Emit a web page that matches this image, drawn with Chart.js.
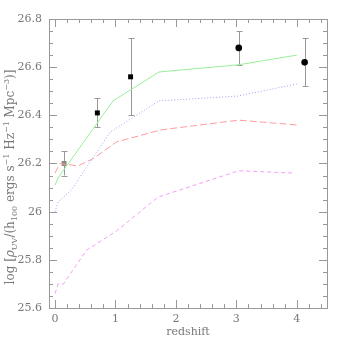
<!DOCTYPE html>
<html>
<head>
<meta charset="utf-8">
<script src="https://cdn.jsdelivr.net/npm/chart.js@4/dist/chart.umd.min.js"></script>
<style>
  html, body { margin: 0; padding: 0; background: #fff; }
  #wrap { width: 346px; height: 346px; }
</style>
</head>
<body>
<div id="wrap"><canvas id="grafico" width="346" height="346"></canvas></div>
<script>
// modelos (redshift, log densidade UV)
const zVerde = [0, 0.05, 0.96, 1.72, 3.04, 4.0];
const yVerde = [26.11, 26.14, 26.46, 26.58, 26.61, 26.65];

const zAzul = [0, 0.05, 0.27, 0.91, 1.72, 3.02, 4.0];
const yAzul = [26.00, 26.04, 26.09, 26.33, 26.46, 26.48, 26.53];

const zVermelho = [0, 0.08, 0.38, 0.63, 1.02, 1.76, 3.04, 4.0];
const yVermelho = [26.16, 26.20, 26.19, 26.22, 26.29, 26.34, 26.38, 26.36];

const zMagenta = [0, 0.05, 0.14, 0.52, 1.02, 1.7, 3.04, 3.97];
const yMagenta = [25.66, 25.70, 25.70, 25.84, 25.92, 26.06, 26.17, 26.16];

// observacoes com barras de erro
const zObs = [0.15, 0.70, 1.25, 3.04, 4.13];
const yObs = [26.20, 26.41, 26.56, 26.68, 26.62];
const yObsMin = [26.15, 26.35, 26.40, 26.61, 26.52];
const yObsMax = [26.25, 26.47, 26.72, 26.75, 26.72];
const estiloObs = ['rect', 'rect', 'rect', 'circle', 'circle'];
const corObs = ['#888', '#000', '#000', '#000', '#000'];

const ticksX = [0, 1, 2, 3, 4];
const ticksY = [25.6, 25.8, 26.0, 26.2, 26.4, 26.6, 26.8];

const corEixo = '#999';
const corTexto = '#777';
const fonteSerif = 'DejaVu Serif';

function pares(xs, ys) {
    return xs.map((x, i) => ({ x: x, y: ys[i] }));
}

function linhaModelo(label, xs, ys, cor, dash) {
    return {
        label: label,
        data: pares(xs, ys),
        showLine: true,
        borderColor: cor,
        borderWidth: 1,
        borderDash: dash,
        pointRadius: 0,
        fill: false,
        tension: 0
    };
}

// barras de erro, moldura e ticks internos
const pluginMoldura = {
    id: 'moldura',
    beforeDatasetsDraw(chart) {
        const ctx = chart.ctx;
        const a = chart.chartArea;
        const sx = chart.scales.x;
        const sy = chart.scales.y;
        ctx.save();
        ctx.strokeStyle = corEixo;
        ctx.lineWidth = 1;
        ctx.strokeRect(Math.round(a.left) + 0.5, Math.round(a.top) + 0.5,
            Math.round(a.right - a.left), Math.round(a.bottom - a.top));

        ctx.beginPath();
        // ticks em x a cada 0.2
        for (let i = 0; i <= 22; i++) {
            const v = i * 0.2;
            const px = Math.round(sx.getPixelForValue(v)) + 0.5;
            const len = (i % 5 === 0) ? 8 : 4;
            ctx.moveTo(px, a.bottom); ctx.lineTo(px, a.bottom - len);
            ctx.moveTo(px, a.top); ctx.lineTo(px, a.top + len);
        }
        // ticks em y a cada 0.05
        for (let i = 0; i <= 24; i++) {
            const v = 25.6 + i * 0.05;
            const py = Math.round(sy.getPixelForValue(v)) + 0.5;
            const len = (i % 4 === 0) ? 8 : 4;
            ctx.moveTo(a.left, py); ctx.lineTo(a.left + len, py);
            ctx.moveTo(a.right, py); ctx.lineTo(a.right - len, py);
        }
        ctx.stroke();

        // barras de erro
        ctx.beginPath();
        zObs.forEach((z, i) => {
            const px = Math.round(sx.getPixelForValue(z)) + 0.5;
            const p1 = sy.getPixelForValue(yObsMin[i]);
            const p2 = sy.getPixelForValue(yObsMax[i]);
            ctx.moveTo(px, p1); ctx.lineTo(px, p2);
            ctx.moveTo(px - 3, Math.round(p1) + 0.5); ctx.lineTo(px + 3, Math.round(p1) + 0.5);
            ctx.moveTo(px - 3, Math.round(p2) + 0.5); ctx.lineTo(px + 3, Math.round(p2) + 0.5);
        });
        ctx.stroke();
        ctx.restore();
    },
    afterDraw(chart) {
        const ctx = chart.ctx;
        const a = chart.chartArea;
        ctx.save();
        ctx.fillStyle = corTexto;
        // titulo x
        ctx.font = '11px "' + fonteSerif + '"';
        ctx.textAlign = 'center';
        ctx.textBaseline = 'alphabetic';
        ctx.fillText('redshift', (a.left + a.right) / 2, 335);

        // titulo y com sub/sobrescritos
        const partes = [
            { t: 'log [', k: 'n' }, { t: 'ρ', k: 'i' }, { t: 'UV', k: 'sub' },
            { t: '/(h', k: 'n' }, { t: '100', k: 'sub' }, { t: ' ergs s', k: 'n' },
            { t: '−1', k: 'sup' }, { t: ' Hz', k: 'n' }, { t: '−1', k: 'sup' },
            { t: ' Mpc', k: 'n' }, { t: '−3', k: 'sup' }, { t: ')]', k: 'n' }
        ];
        const fonte = k => {
            if (k === 'sub' || k === 'sup') return '8px "' + fonteSerif + '"';
            if (k === 'i') return 'italic 12px "' + fonteSerif + '"';
            return '12px "' + fonteSerif + '"';
        };
        let total = 0;
        partes.forEach(p => { ctx.font = fonte(p.k); p.w = ctx.measureText(p.t).width; total += p.w; });
        ctx.translate(14, 177);
        ctx.rotate(-Math.PI / 2);
        ctx.textAlign = 'left';
        let x = -total / 2;
        partes.forEach(p => {
            ctx.font = fonte(p.k);
            let dy = 0;
            if (p.k === 'sub') dy = 3;
            if (p.k === 'sup') dy = -5;
            ctx.fillText(p.t, x, dy);
            x += p.w;
        });
        ctx.restore();
    }
};

function criarGrafico() {
    const canvas = document.getElementById('grafico');
    if (!canvas) return;

    try {
        new Chart(canvas, {
            type: 'scatter',
            data: {
                datasets: [
                    linhaModelo('verde', zVerde, yVerde, '#99ee99', []),
                    linhaModelo('azul', zAzul, yAzul, '#9f9ff5', [1, 2]),
                    linhaModelo('vermelho', zVermelho, yVermelho, '#ff9c9c', [7, 3]),
                    linhaModelo('magenta', zMagenta, yMagenta, '#f59cf5', [4, 3]),
                    {
                        label: 'observado',
                        data: pares(zObs, yObs),
                        showLine: false,
                        pointStyle: estiloObs,
                        pointRadius: [3.5, 3.5, 3.5, 3.3, 3.3],
                        pointBackgroundColor: corObs,
                        pointBorderColor: corObs,
                        pointBorderWidth: 0
                    }
                ]
            },
            options: {
                responsive: false,
                animation: false,
                devicePixelRatio: 1,
                layout: { padding: { top: 19, right: 19, left: 0, bottom: 0 } },
                plugins: {
                    legend: { display: false },
                    tooltip: { enabled: false }
                },
                scales: {
                    x: {
                        type: 'linear',
                        min: -0.1,
                        max: 4.5,
                        afterFit: s => { s.height = 38; },
                        afterBuildTicks: s => { s.ticks = ticksX.map(v => ({ value: v })); },
                        grid: { display: false, drawTicks: false },
                        border: { display: false },
                        ticks: {
                            padding: 5,
                            color: corTexto,
                            font: { family: fonteSerif, size: 11 },
                            callback: v => String(v)
                        }
                    },
                    y: {
                        type: 'linear',
                        min: 25.6,
                        max: 26.8,
                        afterFit: s => { s.width = 49; },
                        afterBuildTicks: s => { s.ticks = ticksY.map(v => ({ value: v })); },
                        grid: { display: false, drawTicks: false },
                        border: { display: false },
                        ticks: {
                            padding: 7,
                            color: corTexto,
                            font: { family: fonteSerif, size: 11 },
                            callback: v => String(Number(v.toFixed(1)))
                        }
                    }
                }
            },
            plugins: [pluginMoldura]
        });
    } catch (error) {
        console.error('Erro no grafico:', error);
    }
}

criarGrafico();
</script>
</body>
</html>
